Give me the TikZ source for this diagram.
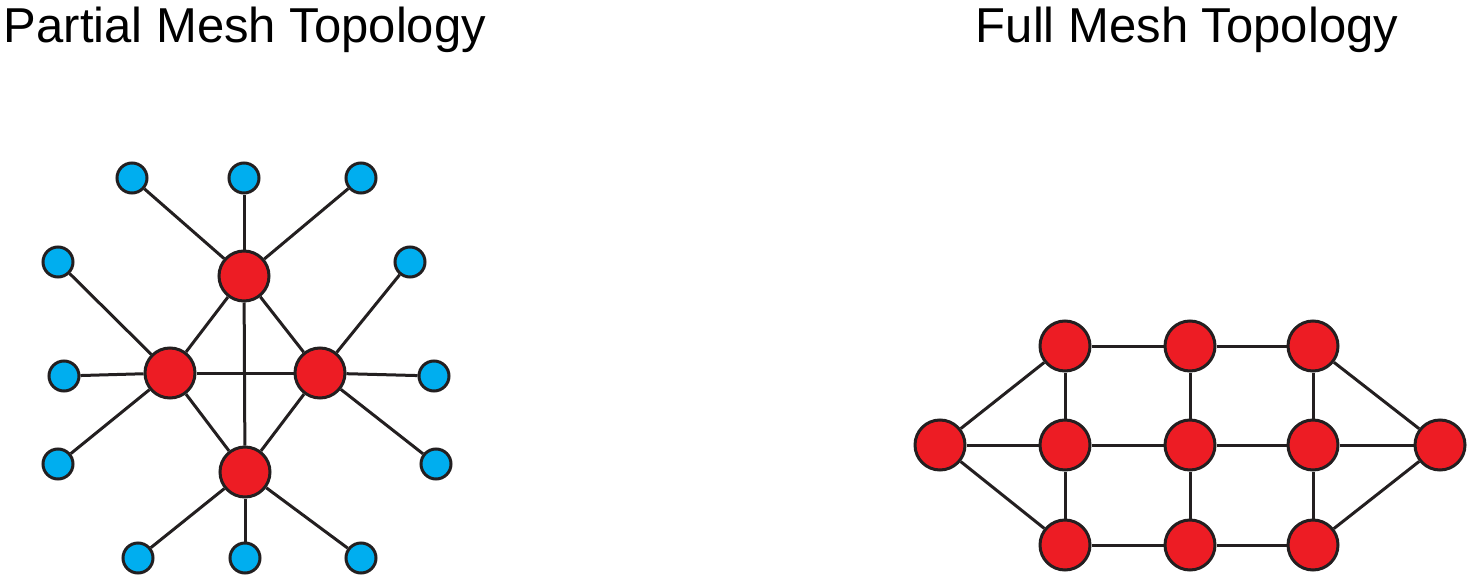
\documentclass[tikz,border=0pt]{standalone}
\usepackage{fontspec}
\setmainfont{Liberation Sans}
\definecolor{nred}{HTML}{ED1C24}
\definecolor{nblue}{HTML}{00AEEF}
\definecolor{ink}{HTML}{231F20}
\begin{document}
\begin{tikzpicture}[x=1pt,y=-1pt,
 red/.style={circle,draw=ink,line width=3pt,fill=nred,minimum size=50pt,inner sep=0},
 blue/.style={circle,draw=ink,line width=3pt,fill=nblue,minimum size=30pt,inner sep=0},
 ed/.style={line width=3pt,draw=ink},
 ttl/.style={font=\fontsize{49}{52}\selectfont,anchor=base}]
\useasboundingbox (0,0) rectangle (1467,578);
\node[ttl] (t1) at (245,43) {Partial Mesh Topology};
\node[ttl] (t2) at (1187,43) {Full Mesh Topology};
% partial
\node[red] (T) at (244,276) {};
\node[red] (L) at (170,373) {};
\node[red] (R) at (320,373) {};
\node[red] (B) at (245,472) {};
\foreach \n/\x/\y in {b1/132/178,b2/244/178,b3/361/178,b4/58/262,b5/410/262,b6/64/376,b7/434/376,b8/58/464,b9/436/464,b10/138/558,b11/245/558,b12/361/558}
  \node[blue] (\n) at (\x,\y) {};
\foreach \a/\b in {T/b1,T/b2,T/b3,T/L,T/R,T/B,L/R,L/B,R/B,L/b4,L/b6,L/b8,R/b5,R/b7,R/b9,B/b10,B/b11,B/b12}
  \draw[ed] (\a) -- (\b);
% full
\node[red] (a1) at (1065,346) {};
\node[red] (a2) at (1190,346) {};
\node[red] (a3) at (1313,346) {};
\node[red] (m0) at (940,445) {};
\node[red] (m1) at (1065,445) {};
\node[red] (m2) at (1190,445) {};
\node[red] (m3) at (1313,445) {};
\node[red] (m4) at (1440,445) {};
\node[red] (c1) at (1065,545) {};
\node[red] (c2) at (1190,545) {};
\node[red] (c3) at (1313,545) {};
\foreach \a/\b in {a1/a2,a2/a3,m0/m1,m1/m2,m2/m3,m3/m4,c1/c2,c2/c3,a1/m1,m1/c1,a2/m2,m2/c2,a3/m3,m3/c3,m0/a1,m0/c1,m4/a3,m4/c3}
  \draw[ed] (\a) -- (\b);
\end{tikzpicture}
\end{document}
